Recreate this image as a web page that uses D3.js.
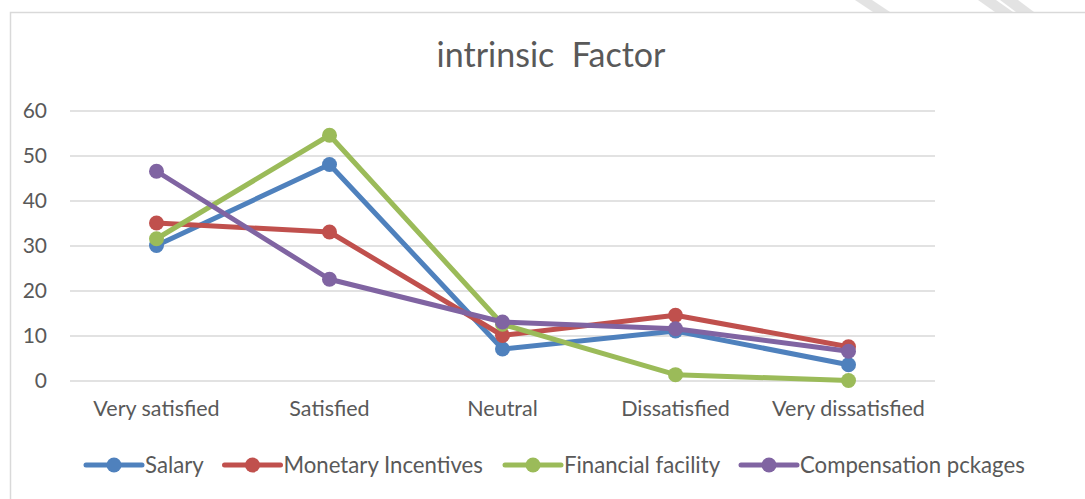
<!DOCTYPE html>
<html>
<head>
<meta charset="utf-8">
<script src="https://cdn.jsdelivr.net/npm/d3@7"></script>
<style>
  body { margin: 0; background: #fff; }
  svg { display: block; }
  text { font-family: Lato, "Open Sans", sans-serif; fill: #595959; }
</style>
</head>
<body>
<div id="myPlot"></div>
<script>
// data
var categories = ["Very satisfied", "Satisfied", "Neutral", "Dissatisfied", "Very dissatisfied"];
var seriesNames = ["Salary", "Monetary Incentives", "Financial facility", "Compensation pckages"];
var salary = [30, 48, 7, 11, 3.5];
var monetaryIncentives = [35, 33, 10, 14.5, 7.5];
var financialFacility = [31.5, 54.5, 12.5, 1.3, 0];
var compensationPckages = [46.5, 22.5, 13, 11.5, 6.5];
var yTicks = [0, 10, 20, 30, 40, 50, 60];
var colors = ["#4f81bd", "#c0504d", "#9bbb59", "#8064a2"];

var W = 1085, H = 499;
var plot = { left: 70, right: 935, top: 110.5, bottom: 380.5 };

var svg = d3.select("#myPlot")
  .append("svg")
  .attr("width", W)
  .attr("height", H);

// faint watermark stripes above the chart frame
svg.append("polygon")
  .attr("points", "855,0 872,0 890,12 873,12")
  .attr("fill", "#e3e3e3");
svg.append("polygon")
  .attr("points", "978,0 996,0 1013,12 995,12")
  .attr("fill", "#e3e3e3");
svg.append("polygon")
  .attr("points", "1000,0 1018,0 1034,12 1016,12")
  .attr("fill", "#e3e3e3");

// chart frame
svg.append("rect")
  .attr("x", 10.5).attr("y", 12.5)
  .attr("width", W).attr("height", H)
  .attr("fill", "#fff")
  .attr("stroke", "#d9d9d9")
  .attr("stroke-width", 1.5);

// title
svg.append("text")
  .attr("x", 551).attr("y", 67)
  .attr("text-anchor", "middle")
  .style("font-size", "34px")
  .style("white-space", "pre")
  .text("intrinsic  Factor");

var x = d3.scaleBand()
  .domain(categories)
  .range([plot.left, plot.right]);

var y = d3.scaleLinear()
  .domain([0, 60])
  .range([plot.bottom, plot.top]);

// gridlines + y labels
var yAxis = svg.append("g")
  .attr("transform", "translate(" + plot.left + ",0)")
  .call(d3.axisLeft(y).tickValues(yTicks).tickSize(-(plot.right - plot.left)).tickPadding(23));
yAxis.select(".domain").remove();
yAxis.selectAll(".tick line").attr("stroke", "#d9d9d9").attr("stroke-width", 1.5);
yAxis.selectAll(".tick text")
  .attr("fill", "#595959")
  .style("font-size", "21px");

// x labels
var xAxis = svg.append("g")
  .attr("transform", "translate(0," + plot.bottom + ")")
  .call(d3.axisBottom(x).tickSize(0).tickPadding(20));
xAxis.select(".domain").remove();
xAxis.selectAll(".tick text")
  .attr("fill", "#595959")
  .style("font-size", "21.5px");

var allSeries = [salary, monetaryIncentives, financialFacility, compensationPckages];

var line = d3.line()
  .x(function (d, i) { return x(categories[i]) + x.bandwidth() / 2; })
  .y(function (d) { return y(d); });

allSeries.forEach(function (vals, s) {
  var g = svg.append("g");
  g.append("path")
    .datum(vals)
    .attr("fill", "none")
    .attr("stroke", colors[s])
    .attr("stroke-width", 5)
    .attr("stroke-linejoin", "round")
    .attr("d", line);
  g.selectAll("circle")
    .data(vals)
    .enter().append("circle")
    .attr("cx", function (d, i) { return x(categories[i]) + x.bandwidth() / 2; })
    .attr("cy", function (d) { return y(d); })
    .attr("r", 7.5)
    .attr("fill", colors[s]);
});

// legend
var legendX = [86, 224.5, 505, 741];
var legend = svg.append("g").attr("transform", "translate(0,465)");
seriesNames.forEach(function (name, s) {
  var lg = legend.append("g").attr("transform", "translate(" + legendX[s] + ",0)");
  lg.append("line")
    .attr("x1", 0).attr("x2", 56)
    .attr("stroke", colors[s])
    .attr("stroke-width", 5)
    .attr("stroke-linecap", "round");
  lg.append("circle")
    .attr("cx", 28).attr("r", 7.5)
    .attr("fill", colors[s]);
  lg.append("text")
    .attr("x", 59).attr("y", 7.5)
    .style("font-size", "22.2px")
    .text(name);
});
</script>
</body>
</html>
